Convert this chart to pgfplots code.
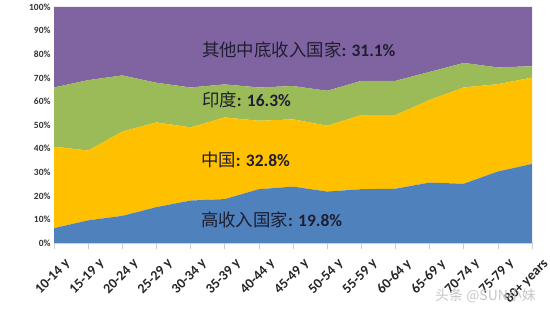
\documentclass[border=0pt]{standalone}
\usepackage{pgfplots}
\pgfplotsset{compat=1.18}
\usepackage{fontspec}
\setmainfont{Carlito}
\newfontfamily\cjk{Noto Sans CJK SC}
\definecolor{cblue}{HTML}{4F81BD}
\definecolor{cyel}{HTML}{FFC000}
\definecolor{cgreen}{HTML}{9BBB59}
\definecolor{cpurp}{HTML}{8064A2}
\definecolor{ctxt}{HTML}{1E1E30}
\begin{document}
\begin{tikzpicture}
\useasboundingbox (-54bp,-69bp) rectangle (496bp,243bp);
\begin{axis}[
  scale only axis,
  width=478bp, height=236bp,
  at={(0,0)}, anchor=south west,
  xmin=0, xmax=14, ymin=0, ymax=100,
  stack plots=y,
  area style,
  clip=false,
  axis line style={draw=none},
  axis x line*=bottom,
  axis y line*=left,
  xtick={0,...,14},
  xticklabels={10-14 y,15-19 y,20-24 y,25-29 y,30-34 y,35-39 y,40-44 y,45-49 y,50-54 y,55-59 y,60-64 y,65-69 y,70-74 y,75-79 y,80+ years},
  xticklabel style={rotate=45, anchor=north east, font=\fontsize{14}{15}\selectfont\bfseries, text=black!85, inner sep=0pt, yshift=-13pt, xshift=1pt},
  x tick style={draw=gray!40, line width=0.6pt},
  xtick align=outside,
  major tick length=6bp,
  ytick={0,10,...,100},
  yticklabel={\pgfmathprintnumber{\tick}\%},
  yticklabel style={font=\fontsize{9.5}{10}\selectfont\bfseries, text=black!80},
  y tick style={draw=none},
  /pgf/number format/assume math mode=true,
]
\addplot[fill=cblue, draw=none] coordinates {(0,6.3)(1,9.6)(2,11.5)(3,15.2)(4,18.0)(5,18.6)(6,22.8)(7,23.9)(8,21.8)(9,22.8)(10,23.0)(11,25.6)(12,25.1)(13,30.3)(14,33.5)} \closedcycle;
\addplot[fill=cyel, draw=none] coordinates {(0,34.5)(1,29.6)(2,35.7)(3,35.9)(4,31.0)(5,34.6)(6,29.0)(7,28.5)(8,27.9)(9,31.4)(10,31.2)(11,35.0)(12,40.8)(13,37.0)(14,36.6)} \closedcycle;
\addplot[fill=cgreen, draw=none] coordinates {(0,25.1)(1,29.8)(2,23.8)(3,16.8)(4,16.9)(5,14.0)(6,14.1)(7,14.1)(8,14.8)(9,14.5)(10,14.5)(11,11.9)(12,10.4)(13,7.1)(14,4.8)} \closedcycle;
\addplot[fill=cpurp, draw=none] coordinates {(0,34.1)(1,31.0)(2,29.0)(3,32.1)(4,34.1)(5,32.8)(6,34.1)(7,33.5)(8,35.5)(9,31.3)(10,31.3)(11,27.5)(12,23.7)(13,25.6)(14,25.1)} \closedcycle;
\coordinate (L1) at (axis cs:4.33,81.8);
\coordinate (L2) at (axis cs:4.33,60.6);
\coordinate (L3) at (axis cs:4.3,35.2);
\coordinate (L4) at (axis cs:4.3,9.7);
\coordinate (W) at (axis cs:11.16,-22.5);
\coordinate (A0) at (axis cs:0,0);
\coordinate (A1) at (axis cs:14,0);
\end{axis}
\draw[gray!40, line width=0.6pt] (A0) -- (A1);
\node[anchor=west, text=ctxt, font=\fontsize{17.5}{18}\selectfont, inner sep=0pt] at (L1) {{\cjk 其他中底收入国家}\textbf{: 31.1\%}};
\node[anchor=west, text=ctxt, font=\fontsize{17.5}{18}\selectfont, inner sep=0pt] at (L2) {{\cjk 印度}\textbf{: 16.3\%}};
\node[anchor=west, text=ctxt, font=\fontsize{17.5}{18}\selectfont, inner sep=0pt] at (L3) {{\cjk 中国}\textbf{: 32.8\%}};
\node[anchor=west, text=ctxt, font=\fontsize{17.5}{18}\selectfont, inner sep=0pt] at (L4) {{\cjk 高收入国家}\textbf{: 19.8\%}};
\node[anchor=west, text=gray!45, font=\fontsize{14}{15}\selectfont, inner sep=0pt] at (W) {{\cjk 头条 @SUN小妹}};
\end{tikzpicture}
\end{document}
